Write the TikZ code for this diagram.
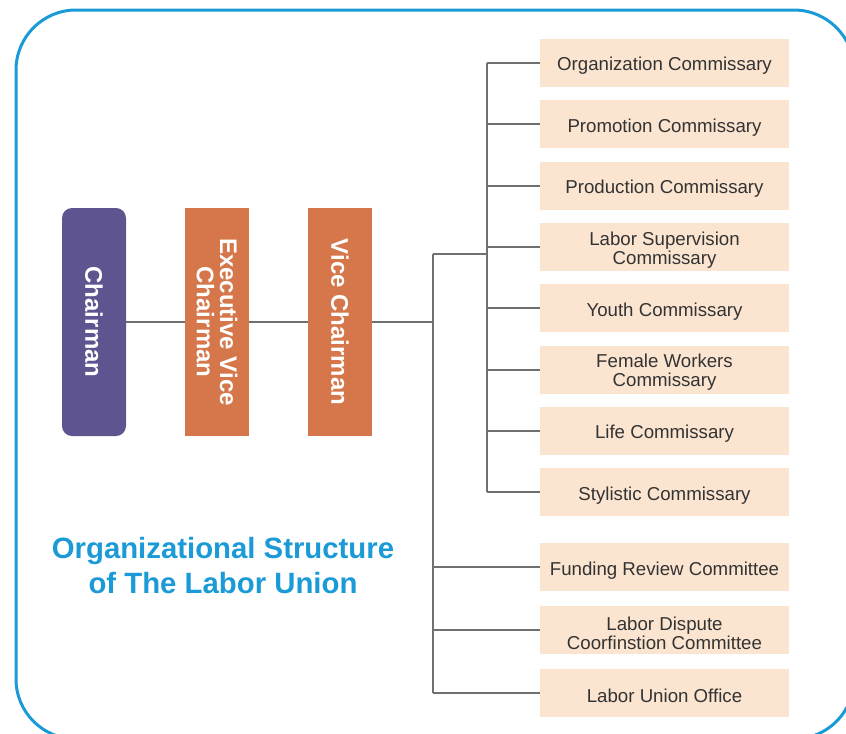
\documentclass[tikz,border=0pt]{standalone}
\usepackage{fontspec}
\setmainfont{Liberation Sans}
\usetikzlibrary{positioning}
\definecolor{frameblue}{HTML}{1A9AD6}
\definecolor{chairpurple}{HTML}{5E5590}
\definecolor{viceorange}{HTML}{D5774A}
\definecolor{commpeach}{HTML}{FBE5D1}
\definecolor{linkgray}{HTML}{707070}
\definecolor{txtgray}{HTML}{333333}

\begin{document}
\begin{tikzpicture}[
  x=0.75pt, y=-0.75pt,
  lead/.style={rectangle, rotate=-90, minimum width=171pt, minimum height=48pt,
    text=white, align=center, inner sep=0pt,
    font=\fontsize{18}{17.5}\selectfont\bfseries},
  comm/.style={rectangle, fill=commpeach, minimum width=186.75pt, minimum height=36pt,
    outer sep=0pt, text=txtgray, align=center, inner sep=1pt,
    font=\fontsize{14}{14.25}\selectfont,
    execute at begin node={\rule{0pt}{14.5pt}}},
  comm2/.style={comm, execute at begin node={\rule{0pt}{28.75pt}}},
  link/.style={draw=linkgray, line width=1.5pt}
]
\useasboundingbox (0,0) rectangle (846,733);
\begin{scope}
\clip (0,0) rectangle (846,733);
\draw[frameblue, line width=2.25pt, rounded corners=45pt] (16,10) rectangle (854,739);
\end{scope}

% leaders
\node[lead, fill=chairpurple, rounded corners=7.5pt] (chair) at (94,322) {Chairman};
\node[lead, fill=viceorange] (exec) at (217,322) {Executive Vice\\Chairman};
\node[lead, fill=viceorange] (vice) at (340,322) {Vice Chairman};

% commissaries
\node[comm] (c1) at (664.5,63) {Organization Commissary};
\node[comm, below=10pt of c1] (c2) {Promotion Commissary};
\node[comm, below=10pt of c2] (c3) {Production Commissary};
\node[comm2, below=10pt of c3] (c4) {Labor Supervision\\Commissary};
\node[comm, below=10pt of c4] (c5) {Youth Commissary};
\node[comm2, below=10pt of c5] (c6) {Female Workers\\Commissary};
\node[comm, below=10pt of c6] (c7) {Life Commissary};
\node[comm, below=10pt of c7] (c8) {Stylistic Commissary};
% committees
\node[comm, below=20.25pt of c8] (c9) {Funding Review Committee};
\node[comm2, below=11pt of c9] (c10) {Labor Dispute\\Coorfinstion Committee};
\node[comm, below=11pt of c10] (c11) {Labor Union Office};

\node[text=frameblue, align=center, font=\fontsize{22}{26.25}\selectfont\bfseries]
  (title) at (223,566) {Organizational Structure\\of The Labor Union};

\coordinate (split) at (433,254);
\coordinate (sub) at (487,254);

\draw[link] (chair) -- (exec);
\draw[link] (exec) -- (vice);
\draw[link] (vice) -- (vice -| split);
\draw[link] (split) -- (split |- c11.west);
\draw[link] (split) -- (sub);
\draw[link] (sub |- c1.west) -- (sub |- c8.west);
\foreach \i in {1,...,8}
  \draw[link] (sub |- c\i.west) -- (c\i.west);
\foreach \i in {9,10,11}
  \draw[link] (split |- c\i.west) -- (c\i.west);
\end{tikzpicture}
\end{document}
